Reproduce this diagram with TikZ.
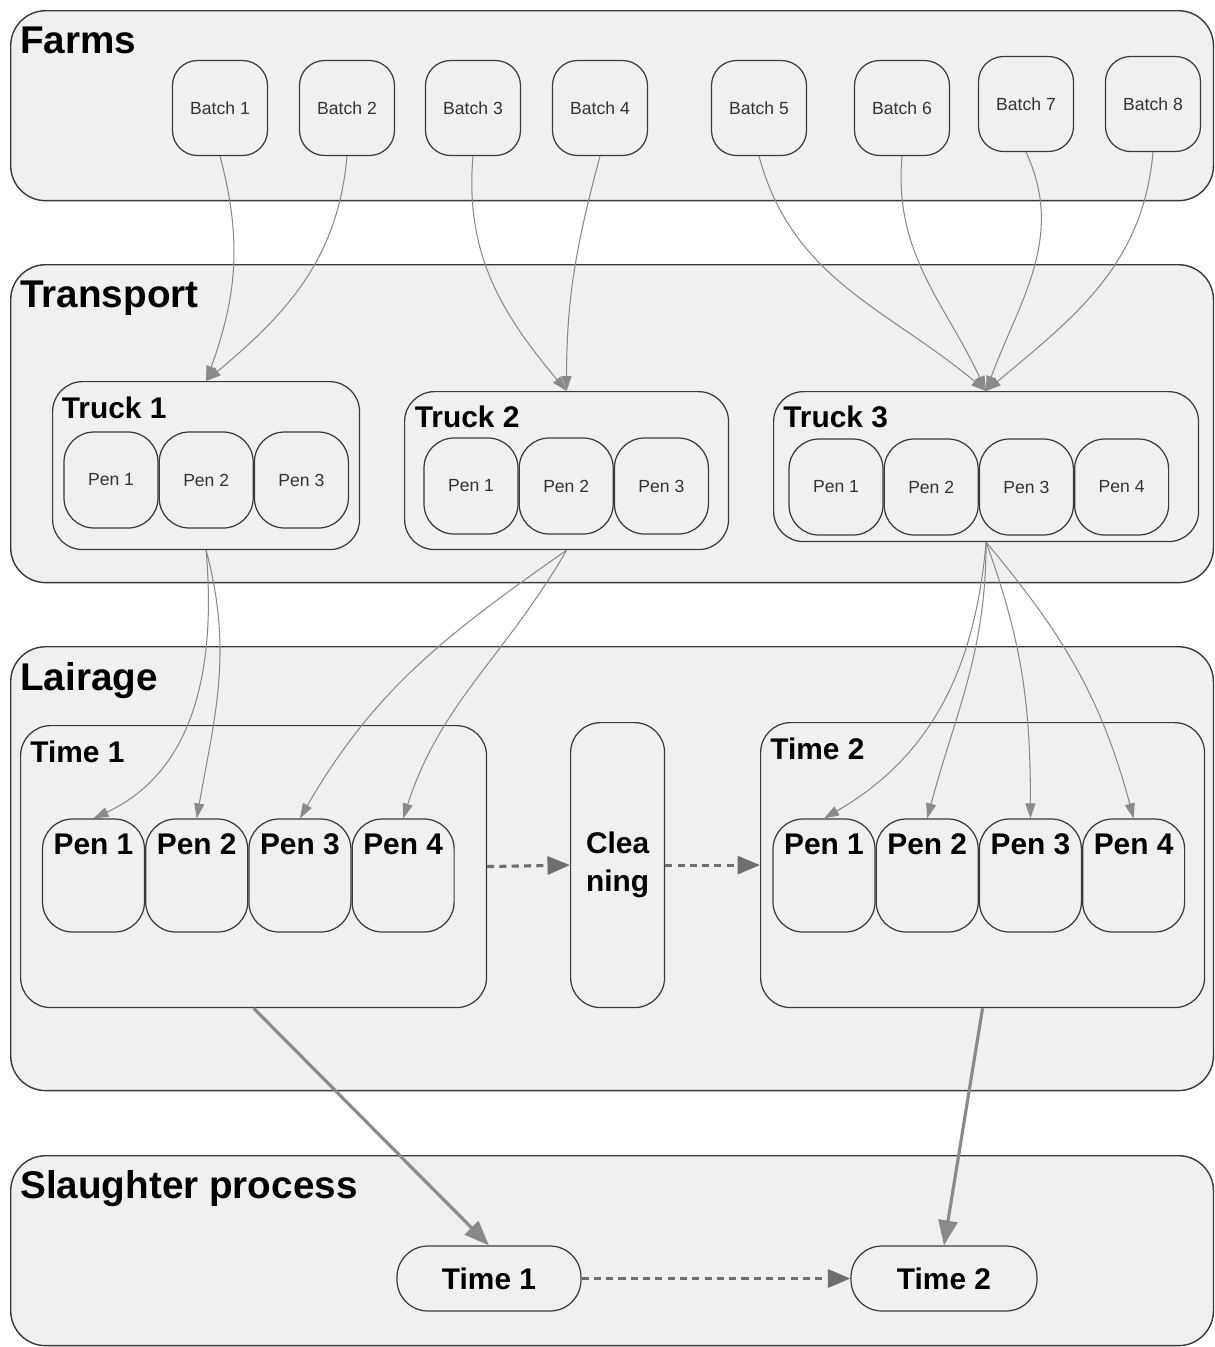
\documentclass[tikz,border=0pt]{standalone}
\usepackage{fontspec}
\setmainfont{Liberation Sans}
\usepackage{tikz}
\usetikzlibrary{
	arrows.meta,
	positioning
}
\definecolor{fondo}{HTML}{F0F0F0}
\definecolor{borde}{HTML}{3A3A3A}
\definecolor{gris}{HTML}{8A8A8A}
\definecolor{grisosc}{HTML}{6E6E6E}

\begin{document}
\begin{tikzpicture}[
  x=0.02cm, y=0.02cm,
  zona/.style={rectangle, draw=borde, fill=fondo, line width=0.8pt,
    rounded corners=0.7cm, anchor=north west, minimum width=24.06cm},
  caja/.style={rectangle, draw=borde, fill=fondo, line width=0.7pt,
    rounded corners=0.6cm, anchor=north west},
  lote/.style={rectangle, draw=borde, fill=fondo, line width=0.7pt,
    rounded corners=0.5cm, minimum width=1.9cm, minimum height=1.9cm,
    inner sep=0pt, text=black!80, font=\fontsize{10}{12}\selectfont},
  corral/.style={lote, rounded corners=0.6cm, minimum width=1.88cm, minimum height=1.92cm},
  corralg/.style={rectangle, draw=borde, fill=fondo, line width=0.7pt,
    rounded corners=0.6cm, minimum width=2.04cm, minimum height=2.26cm,
    inner xsep=0pt, inner ysep=4pt, text height=16pt, text depth=40.1pt,
    font=\bfseries\fontsize{17}{20}\selectfont},
  titulo/.style={anchor=north west, inner sep=0pt, font=\bfseries\fontsize{22}{26}\selectfont},
  subtitulo/.style={titulo, font=\bfseries\fontsize{17}{20}\selectfont},
  flechafina/.style={-{Triangle[length=0.3cm, width=0.2cm]}, draw=gris, line width=0.6pt},
  flechagruesa/.style={-{Triangle[length=0.5cm, width=0.38cm]}, draw=gris, line width=1.8pt},
  flechadis/.style={-{Triangle[length=0.45cm, width=0.36cm]}, draw=grisosc,
    line width=1.8pt, dash pattern=on 4pt off 3pt}
]
\useasboundingbox (0,0) rectangle (1215,-1347);

\node[zona, minimum height=3.8cm] (granjas) at (10,-10) {};
\node[zona, minimum height=6.36cm] (transporte) at (10,-264) {};
\node[zona, minimum height=8.88cm] (corrales) at (10,-646) {};
\node[zona, minimum height=3.8cm] (sacrificio) at (10,-1155) {};
\node[titulo, below right=0.33cm and 0.2cm of granjas.north west] (tGranjas) {Farms};
\node[titulo, below right=0.34cm and 0.2cm of transporte.north west] (tTransporte) {Transport};
\node[titulo, below right=0.32cm and 0.2cm of corrales.north west] (tCorrales) {Lairage};
\node[titulo, below right=0.3cm and 0.2cm of sacrificio.north west] (tSacrificio) {Slaughter process};

\node[lote] (lote1) at (220,-108) {Batch 1};
\node[lote] (lote2) at (347,-108) {Batch 2};
\node[lote] (lote3) at (473,-108) {Batch 3};
\node[lote] (lote4) at (600,-108) {Batch 4};
\node[lote] (lote5) at (759,-108) {Batch 5};
\node[lote] (lote6) at (902,-108) {Batch 6};
\node[lote] (lote7) at (1026,-104) {Batch 7};
\node[lote] (lote8) at (1153,-104) {Batch 8};

\node[caja, minimum width=6.14cm, minimum height=3.36cm] (camion1) at (52,-381) {};
\node[caja, minimum width=6.48cm, minimum height=3.16cm] (camion2) at (404,-391) {};
\node[caja, minimum width=8.5cm, minimum height=3.0cm] (camion3) at (773,-391) {};
\node[subtitulo, below right=0.31cm and 0.19cm of camion1.north west] (tCamion1) {Truck 1};
\node[subtitulo, below right=0.28cm and 0.21cm of camion2.north west] (tCamion2) {Truck 2};
\node[subtitulo, below right=0.28cm and 0.2cm of camion3.north west] (tCamion3) {Truck 3};

\node[corral] (c1p1) at (111,-480) {Pen 1};
\node[corral, right=0pt of c1p1] (c1p2) {Pen 2};
\node[corral, right=0pt of c1p2] (c1p3) {Pen 3};
\node[corral] (c2p1) at (471,-486) {Pen 1};
\node[corral, right=0pt of c2p1] (c2p2) {Pen 2};
\node[corral, right=0pt of c2p2] (c2p3) {Pen 3};
\node[corral] (c3p1) at (836,-487) {Pen 1};
\node[corral, right=0pt of c3p1] (c3p2) {Pen 2};
\node[corral, right=0pt of c3p2] (c3p3) {Pen 3};
\node[corral, right=0pt of c3p3] (c3p4) {Pen 4};

\node[caja, minimum width=9.32cm, minimum height=5.64cm] (tiempo1) at (20,-725) {};
\node[caja, minimum width=1.88cm, minimum height=5.7cm, align=center,
  font=\bfseries\fontsize{17}{21.5}\selectfont] (limpieza) at (570,-722) {Clea\\ning};
\node[caja, minimum width=8.88cm, minimum height=5.7cm] (tiempo2) at (760,-722) {};
\node[subtitulo, below right=0.3cm and 0.2cm of tiempo1.north west] (tTiempo1) {Time 1};
\node[subtitulo, below right=0.3cm and 0.2cm of tiempo2.north west] (tTiempo2) {Time 2};

\node[corralg] (l1p1) at (93.5,-875.5) {Pen 1};
\node[corralg, right=0pt of l1p1] (l1p2) {Pen 2};
\node[corralg, right=0pt of l1p2] (l1p3) {Pen 3};
\node[corralg, right=0pt of l1p3] (l1p4) {Pen 4};
\node[corralg] (l2p1) at (824,-875.5) {Pen 1};
\node[corralg, right=0pt of l2p1] (l2p2) {Pen 2};
\node[corralg, right=0pt of l2p2] (l2p3) {Pen 3};
\node[corralg, right=0pt of l2p3] (l2p4) {Pen 4};

\node[caja, anchor=center, minimum width=3.68cm, minimum height=1.3cm, rounded corners=0.62cm,
  font=\bfseries\fontsize{17}{20}\selectfont] (sacrif1) at (489,-1278.5) {Time 1};
\node[caja, anchor=center, minimum width=3.72cm, minimum height=1.3cm, rounded corners=0.62cm,
  font=\bfseries\fontsize{17}{20}\selectfont] (sacrif2) at (944,-1278.5) {Time 2};

\draw[flechafina] (lote1.south) to[out=-75, in=70] (camion1.north);
\draw[flechafina] (lote2.south) to[out=-95, in=40] (camion1.north);
\draw[flechafina] (lote3.south) to[out=-95, in=130] (camion2.north);
\draw[flechafina] (lote4.south) to[out=-105, in=90] (camion2.north);
\draw[flechafina] (lote5.south) to[out=-75, in=140] (camion3.north);
\draw[flechafina] (lote6.south) to[out=-95, in=115] (camion3.north);
\draw[flechafina] (lote7.south) to[out=-65, in=70] (camion3.north);
\draw[flechafina] (lote8.south) to[out=-95, in=40] (camion3.north);

\draw[flechafina] (camion1.south) to[out=-85, in=25] (l1p1.north);
\draw[flechafina] (camion1.south) to[out=-75, in=80] (l1p2.north);
\draw[flechafina] (camion2.south) to[out=-145, in=60] (l1p3.north);
\draw[flechafina] (camion2.south) to[out=-120, in=72] (l1p4.north);
\draw[flechafina] (camion3.south) to[out=-95, in=30] (l2p1.north);
\draw[flechafina] (camion3.south) to[out=-90, in=75] (l2p2.north);
\draw[flechafina] (camion3.south) to[out=-70, in=90] (l2p3.north);
\draw[flechafina] (camion3.south) to[out=-50, in=105] (l2p4.north);

\draw[flechadis] (tiempo1.east) -- (limpieza.west);
\draw[flechadis] (limpieza.east) -- (tiempo2.west);
\draw[flechagruesa] (tiempo1.south) -- (sacrif1.north);
\draw[flechagruesa] (tiempo2.south) -- (sacrif2.north);
\draw[flechadis] (sacrif1.east) -- (sacrif2.west);
\end{tikzpicture}
\end{document}
